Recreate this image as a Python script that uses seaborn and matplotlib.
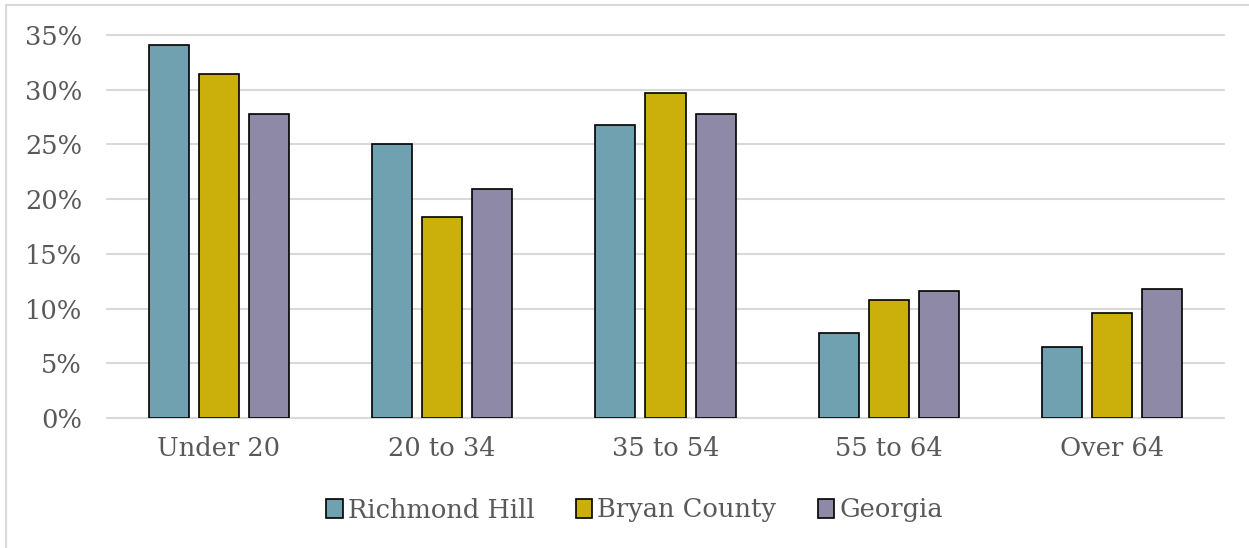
import matplotlib
matplotlib.use("Agg")
import matplotlib.pyplot as plt
import seaborn as sns
import pandas as pd
from matplotlib.ticker import PercentFormatter
from matplotlib.patches import Rectangle

categories = ["Under 20", "20 to 34", "35 to 54", "55 to 64", "Over 64"]
series_names = ["Richmond Hill", "Bryan County", "Georgia"]
richmond_hill = [34.1, 25.0, 26.8, 7.8, 6.5]
bryan_county = [31.4, 18.4, 29.7, 10.8, 9.6]
georgia = [27.8, 20.9, 27.8, 11.6, 11.8]
colors = ["#70A1B0", "#CBAF0B", "#8E89A6"]

rows = []
for name, vals in zip(series_names, [richmond_hill, bryan_county, georgia]):
    for c, v in zip(categories, vals):
        rows.append({"Age": c, "Area": name, "Share": v / 100})
df = pd.DataFrame(rows)

sns.set_theme(style="white")
plt.rcParams["font.family"] = ["DejaVu Serif"]
text_color = "#595959"

fig = plt.figure(figsize=(12.49, 5.48), dpi=100)
ax = fig.add_axes([107 / 1249, 1 - 418 / 548, (1224 - 107) / 1249, (418 - 35) / 548])

sns.barplot(data=df, x="Age", y="Share", hue="Area", order=categories,
            hue_order=series_names, palette=colors, saturation=1,
            width=0.672, gap=0.2, edgecolor="black", linewidth=1.2,
            ax=ax, legend=True, zorder=3)

ax.set_ylim(0, 0.35)
ax.set_yticks([i * 0.05 for i in range(8)])
ax.yaxis.set_major_formatter(PercentFormatter(1.0, decimals=0))
ax.grid(axis="y", color="#D9D9D9", linewidth=1.5, zorder=0)
for gl in ax.get_ygridlines():
    gl.set_clip_on(False)
ax.set_axisbelow(True)
for s in ax.spines.values():
    s.set_visible(False)
ax.set_xlabel("")
ax.set_ylabel("")
fs = 18.5
ax.tick_params(axis="y", length=0, pad=18, labelsize=fs, labelcolor=text_color)
ax.tick_params(axis="x", length=0, pad=13, labelsize=fs, labelcolor=text_color)

handles, labels = ax.get_legend_handles_labels()
ax.get_legend().remove()
leg = fig.legend(handles, labels, loc="center", bbox_to_anchor=(0.508, 1 - 510 / 548),
                 ncol=3, frameon=False, fontsize=fs, handlelength=0.65,
                 handleheight=0.8, handletextpad=0.2, columnspacing=1.6)
for t in leg.get_texts():
    t.set_color(text_color)

fig.patches.append(Rectangle((6 / 1249, -0.1), 1.2, 1 - 5 / 548 + 0.1,
                             transform=fig.transFigure, fill=False,
                             edgecolor="#D9D9D9", linewidth=1.5))

fig.savefig("out.png", dpi=100)
